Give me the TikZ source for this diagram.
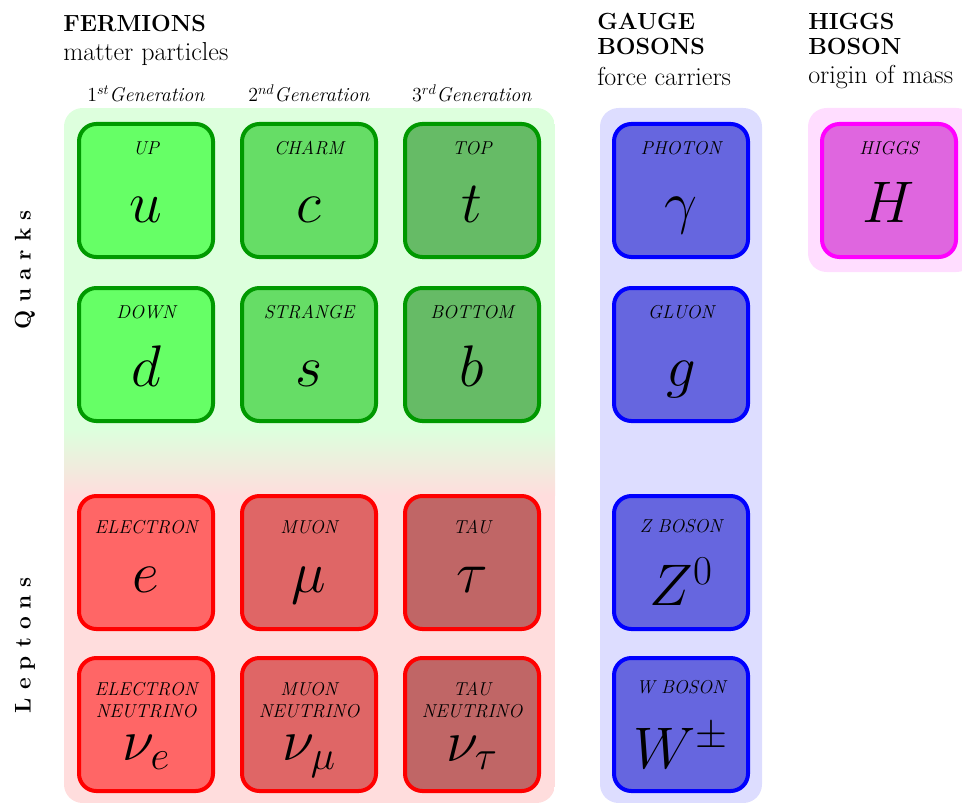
\RequirePackage{fix-cm}
\documentclass[tikz,border=0pt]{standalone}
\usepackage{tikz}
\usetikzlibrary{positioning}
\definecolor{qbg}{HTML}{DDFFDD}
\definecolor{lbg}{HTML}{FFDDDD}
\definecolor{gbg}{HTML}{DDDDFF}
\definecolor{hbg}{HTML}{FFDDFF}
\definecolor{qline}{HTML}{009900}
\definecolor{qone}{HTML}{66FF66}
\definecolor{qtwo}{HTML}{66DD66}
\definecolor{qthree}{HTML}{66BB66}
\definecolor{lline}{HTML}{FF0000}
\definecolor{lone}{HTML}{FF6666}
\definecolor{ltwo}{HTML}{DF6666}
\definecolor{lthree}{HTML}{C06666}
\definecolor{bline}{HTML}{0000FF}
\definecolor{bfill}{HTML}{6666DF}
\definecolor{hline}{HTML}{FF00FF}
\definecolor{hfill}{HTML}{DF66DF}
% big symbol line: #1 = height, #2 = depth of the line, #3 = symbol
\newcommand{\psym}[3]{\rule[-#2]{0pt}{\dimexpr#1+#2\relax}%
  \raisebox{0pt}[0pt][0pt]{\fontsize{44}{66}\selectfont$#3$}}

\begin{document}
\begin{tikzpicture}[x=0.75pt,y=-0.75pt,
  node distance=20.25pt and 18.75pt,
  part/.style={draw,line width=3pt,rounded corners=13pt,minimum width=100.5pt,
               minimum height=99.75pt,inner sep=0pt,align=center,
               font=\fontsize{14}{16}\selectfont\itshape},
  quark/.style={part,draw=qline},
  lepton/.style={part,draw=lline},
  boson/.style={part,draw=bline,fill=bfill},
  higgs/.style={part,draw=hline,fill=hfill},
  bg/.style={rounded corners=14pt},
  head/.style={anchor=north west,align=left,inner sep=0pt,
               font=\fontsize{17.5}{19}\selectfont\bfseries},
  sub/.style={anchor=base west,inner sep=0pt,font=\fontsize{19.5}{20}\selectfont},
  gen/.style={anchor=base,inner sep=0pt,font=\fontsize{15}{16}\selectfont},
  side/.style={rotate=90,font=\fontsize{17}{18}\selectfont\bfseries}]
  \useasboundingbox (0,0) rectangle (962,802);

  % backgrounds
  \begin{scope}
    \clip[bg] (64,108) rectangle (555,803);
    \fill[qbg] (64,108) rectangle (555,430);
    \shade[top color=qbg,bottom color=lbg] (64,430) rectangle (555,495);
    \fill[lbg] (64,495) rectangle (555,803);
  \end{scope}
  \fill[gbg,bg] (600,108) rectangle (762,803);
  \fill[hbg,bg] (808,108) rectangle (975,272);

  % headings
  \node[head] (fer) at (63,15) {FERMIONS};
  \node[sub]  (mat) at (63,61) {matter particles};
  \node[head] (gau) at (597,13) {GAUGE\\BOSONS};
  \node[sub]  (frc) at (597,86) {force carriers};
  \node[head] (hig) at (808,13) {HIGGS\\BOSON};
  \node[sub]  (org) at (808,84) {origin of mass};
  \node[gen] (g1) at (146,102) {$1^{st}$\textit{Generation}};
  \node[gen] (g2) at (309,102) {$2^{nd}$\textit{Generation}};
  \node[gen] (g3) at (472,102) {$3^{rd}$\textit{Generation}};
  \node[side] (qk) at (25,270) {Q\kern6pt u\kern6pt a\kern6pt r\kern6pt k\kern6pt s};
  \node[side] (lp) at (25,645) {L\kern6pt e\kern6pt p\kern6pt t\kern6pt o\kern6pt n\kern6pt s};

  % quarks
  \node[quark,fill=qone] (u) at (146,190.5) {UP\\\psym{50pt}{13pt}{u}};
  \node[quark,fill=qtwo,right=of u] (c) {CHARM\\\psym{50pt}{13pt}{c}};
  \node[quark,fill=qthree,right=of c] (t) {TOP\\\psym{50pt}{13pt}{t}};
  \node[quark,fill=qone,below=of u] (d) {DOWN\\\psym{50pt}{13pt}{d}};
  \node[quark,fill=qtwo,right=of d] (s) {STRANGE\\\psym{50pt}{13pt}{s}};
  \node[quark,fill=qthree,right=of s] (b) {BOTTOM\\\psym{50pt}{13pt}{b}};

  % leptons
  \node[lepton,fill=lone,below=53.25pt of d] (e) {ELECTRON\\\psym{43pt}{9pt}{e}};
  \node[lepton,fill=ltwo,right=of e] (mu) {MUON\\\psym{43pt}{9pt}{\mu}};
  \node[lepton,fill=lthree,right=of mu] (tau) {TAU\\\psym{43pt}{9pt}{\tau}};
  \node[lepton,fill=lone,below=18.75pt of e] (ne) {ELECTRON\\NEUTRINO\\\psym{31.5pt}{4pt}{\nu_e}};
  \node[lepton,fill=ltwo,right=of ne] (nm) {MUON\\NEUTRINO\\\psym{31.5pt}{4pt}{\nu_\mu}};
  \node[lepton,fill=lthree,right=of nm] (nt) {TAU\\NEUTRINO\\\psym{31.5pt}{4pt}{\nu_\tau}};

  % bosons
  \node[boson] (ph) at (681,190.5) {PHOTON\\\psym{50pt}{13pt}{\gamma}};
  \node[boson,below=of ph] (gl) {GLUON\\\psym{50pt}{13pt}{g}};
  \node[boson,below=53.25pt of gl] (z) {Z BOSON\\\psym{54pt}{0pt}{Z^0}};
  \node[boson,below=18.75pt of z] (w) {W BOSON\\\psym{55pt}{0pt}{W^\pm}};
  \node[higgs] (h) at (889,190.5) {HIGGS\\\psym{50pt}{13pt}{H}};
\end{tikzpicture}
\end{document}
